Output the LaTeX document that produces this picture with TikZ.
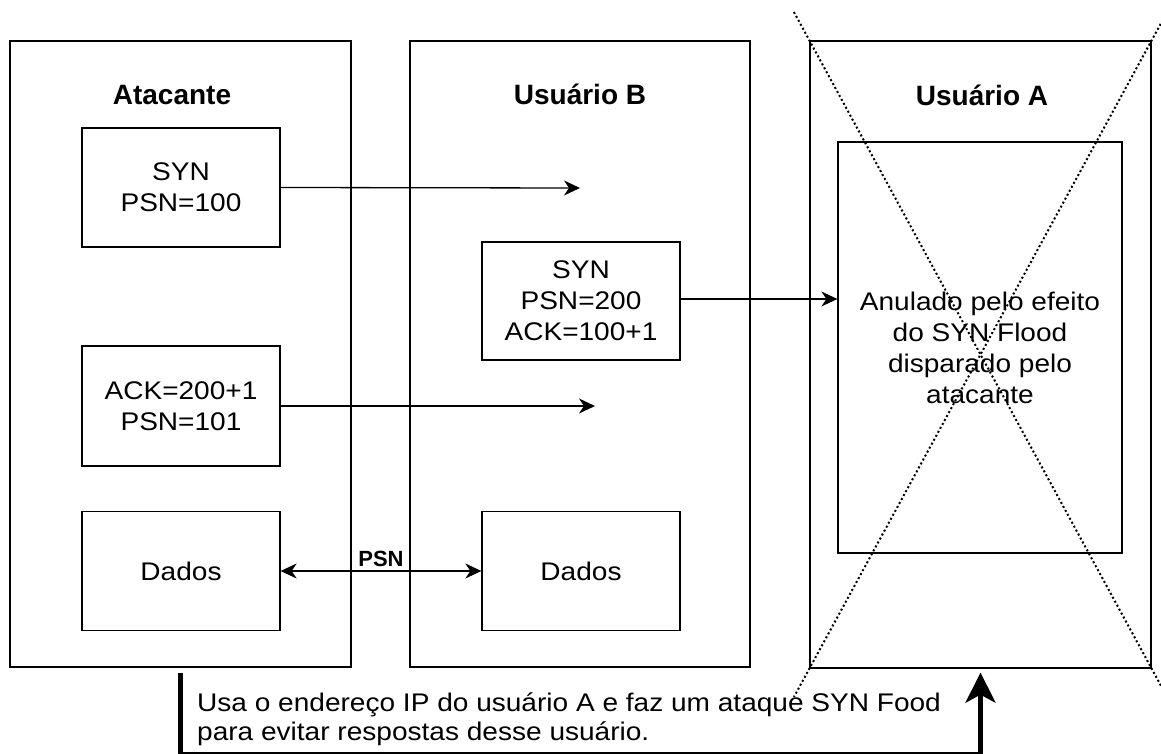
\documentclass[tikz,border=0pt]{standalone}
\usepackage{fontspec}
\setmainfont{Liberation Sans}
\newfontfamily\bodyfont{Liberation Sans}[FakeStretch=1.1]
\usetikzlibrary{arrows.meta,calc}

\begin{document}
\begin{tikzpicture}[x=1pt,y=-1pt,
  box/.style={draw=black, line width=1.3pt, inner sep=0pt, align=center,
    font=\bodyfont\fontsize{25.5pt}{31pt}\selectfont},
  title/.style={inner sep=0pt, anchor=base, font=\fontsize{28pt}{32pt}\selectfont\bfseries},
  flow/.style={line width=1.3pt, -{Stealth[length=16pt,width=15pt,inset=5pt]}},
  twoway/.style={line width=1.3pt,
    {Stealth[length=16pt,width=15pt,inset=5pt]}-{Stealth[length=16pt,width=15pt,inset=5pt]}},
  attack/.style={line width=5pt, -{Stealth[length=30pt,width=30pt,inset=8pt]}},
  cross/.style={line width=2pt, dash pattern=on 2pt off 2.5pt}]

\useasboundingbox (0,0) rectangle (1161,754);

% the three hosts
\node[box, minimum width=341pt, minimum height=626pt] (atk)  at (180.5,354) {};
\node[box, minimum width=340pt, minimum height=626pt] (usrB) at (580,354) {};
\node[box, minimum width=341pt, minimum height=627pt] (usrA) at (980.5,354.5) {};

\node[title] (atkT)  at (172,105) {Atacante};
\node[title] (usrBT) at (580,105) {Usuário B};
\node[title] (usrAT) at (982,106) {Usuário A};

% packets of the attacker
\node[box, minimum width=198pt, minimum height=119pt] (atkSyn)   at (181,187.5) {SYN\\PSN=100};
\node[box, minimum width=198pt, minimum height=120pt] (atkAck)   at (181,406) {ACK=200+1\\PSN=101};
\node[box, minimum width=198pt, minimum height=119pt] (atkDados) at (181,571) {Dados};

% packets of user B
\node[box, minimum width=198pt, minimum height=118pt] (bSyn)   at (581,301) {SYN\\PSN=200\\ACK=100+1};
\node[box, minimum width=198pt, minimum height=119pt] (bDados) at (581,571) {Dados};

% user A, knocked out
\node[box, minimum width=284pt, minimum height=411pt] (aInner) at (980,347.5)
  {Anulado pelo efeito\\do SYN Flood\\disparado pelo\\atacante};

% message flow
\coordinate (synEnd) at (580,188);
\coordinate (ackEnd) at (595,406);
\draw[flow] (atkSyn.east) -- (synEnd);
\draw[flow] (atkAck.east) -- (ackEnd);
\draw[flow] (bSyn.east |- 0,299) -- (aInner.west |- 0,299);
\draw[twoway] (atkDados.east) -- node[above=4pt, inner sep=0pt,
  font=\fontsize{22pt}{24pt}\selectfont\bfseries] (psn) {PSN} (bDados.west);

% spoofing / SYN flood path
\coordinate (bend) at (181,750);
\draw[attack] ([yshift=-5pt]atk.south) |- ([yshift=-4pt]usrA.south |- bend)
  -- ([yshift=-4pt]usrA.south);
\node[inner sep=0pt, anchor=west, align=left,
  font=\bodyfont\fontsize{25.5pt}{29pt}\selectfont] (note) at (197,719)
  {Usa o endereço IP do usuário A e faz um ataque SYN Food\\para evitar respostas desse usuário.};

% dotted cross over user A
\begin{scope}
  \clip (0,0) rectangle (1161,754);
  \draw[cross] ($(usrA.north west)!-0.045!(usrA.south east)$) -- ($(usrA.south east)!-0.045!(usrA.north west)$);
  \draw[cross] ($(usrA.north east)!-0.045!(usrA.south west)$) -- ($(usrA.south west)!-0.045!(usrA.north east)$);
\end{scope}
\end{tikzpicture}
\end{document}
